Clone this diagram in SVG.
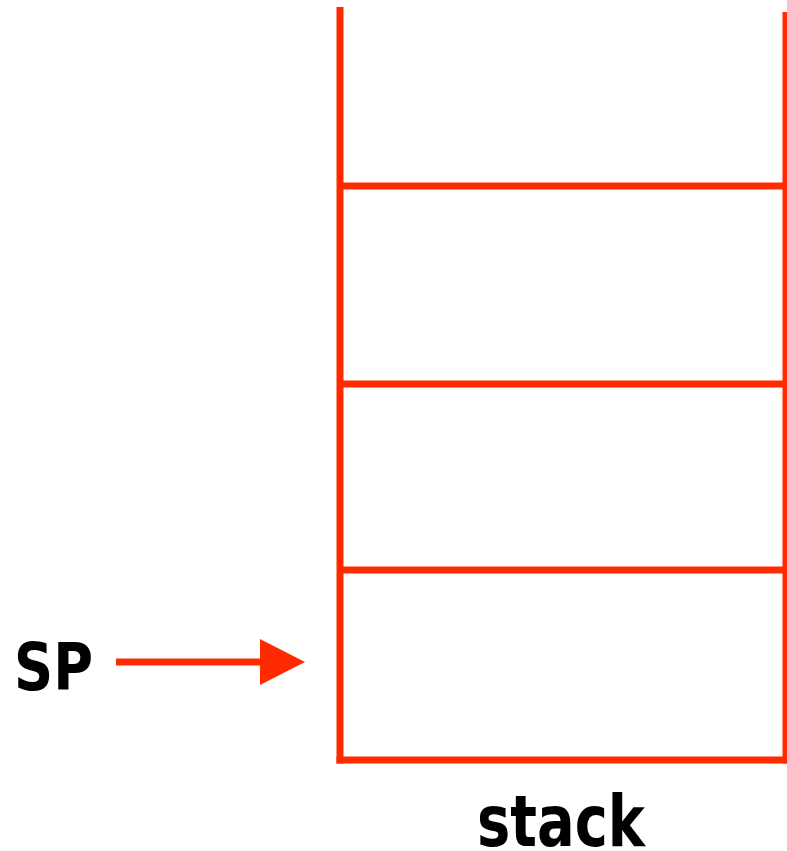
<svg xmlns="http://www.w3.org/2000/svg" width="787" height="851" viewBox="0 0 787 851">
  <style>
    .red { stroke: #FF2A00; stroke-width: 7; fill: none; stroke-linecap: butt; }
    .lbl { font-family: "DejaVu Sans", Verdana, sans-serif; font-weight: bold; fill: #000000; }
  </style>
  <defs>
    <marker id="head" markerUnits="userSpaceOnUse" markerWidth="46" markerHeight="46" refX="0" refY="23" orient="auto">
      <path d="M0,0 L45,23 L0,46 Z" fill="#FF2A00"/>
    </marker>
  </defs>
  <rect width="787" height="851" fill="#FFFFFF"/>
  <g id="stack">
    <line class="red" x1="340" y1="7" x2="340" y2="763.5"/>
    <line class="red" x1="786" y1="12" x2="786" y2="763.5"/>
    <line class="red" x1="340" y1="186" x2="786" y2="186"/>
    <line class="red" x1="340" y1="384" x2="786" y2="384"/>
    <line class="red" x1="340" y1="570" x2="786" y2="570"/>
    <line class="red" x1="336.5" y1="760" x2="789.5" y2="760"/>
    <text class="lbl" x="477" y="846" font-size="72" textLength="168" lengthAdjust="spacingAndGlyphs">stack</text>
  </g>
  <g id="sp">
    <text class="lbl" x="14" y="690" font-size="66" textLength="79" lengthAdjust="spacingAndGlyphs">SP</text>
  </g>
  <g id="connectors">
    <line class="red" x1="116" y1="662" x2="260" y2="662" marker-end="url(#head)"/>
  </g>
</svg>
